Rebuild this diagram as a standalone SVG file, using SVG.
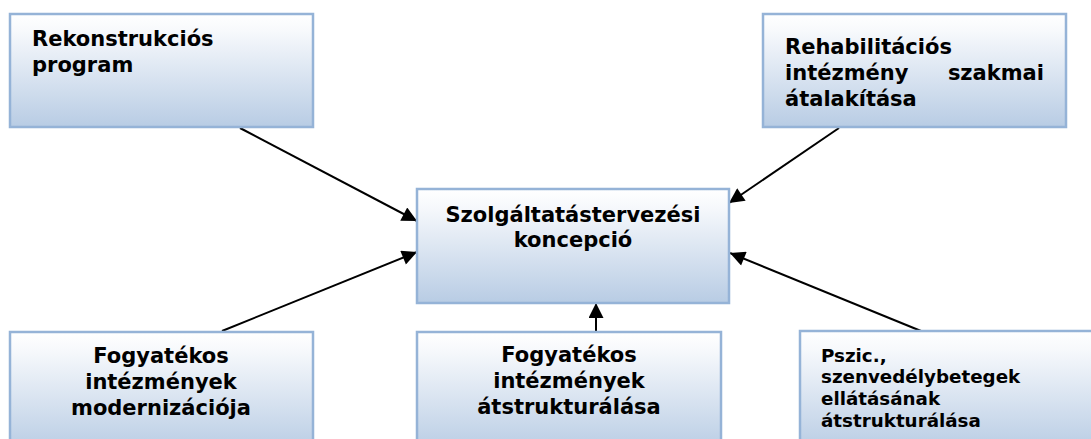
<svg xmlns="http://www.w3.org/2000/svg" width="1091" height="439" viewBox="0 0 1091 439">
<style>
.box{fill:url(#g);stroke:#95b3d7;stroke-width:2.5}
.t{font-family:"DejaVu Sans","Verdana",sans-serif;font-weight:bold;font-size:21px;fill:#000}
.s{font-size:18.3px}
.m{text-anchor:middle}
.e{text-anchor:end}
.c{stroke:#000;stroke-width:2;fill:none;marker-end:url(#a)}
</style>
<defs>
<linearGradient id="g" x1="0" y1="0" x2="0" y2="1">
<stop offset="0" stop-color="#ffffff"/>
<stop offset="0.15" stop-color="#f7f9fc"/>
<stop offset="1" stop-color="#b8cce4"/>
</linearGradient>
<marker id="a" viewBox="0 0 10 10" refX="10" refY="5" markerWidth="8.5" markerHeight="7.5" markerUnits="strokeWidth" orient="auto">
<path d="M0,0L10,5L0,10z" fill="#000"/>
</marker>
</defs>
<g id="connectors">
<line class="c" x1="240" y1="128" x2="417" y2="221"/>
<line class="c" x1="839" y1="128" x2="729" y2="203"/>
<line class="c" x1="222" y1="331" x2="417" y2="252"/>
<line class="c" x1="921" y1="331" x2="730" y2="253"/>
<line class="c" x1="596" y1="332" x2="596" y2="303"/>
</g>
<g id="n1">
<rect class="box" x="10" y="14" width="303" height="113"/>
<text class="t" x="32" y="46">Rekonstrukciós</text>
<text class="t" x="32" y="72">program</text>
</g>
<g id="n2">
<rect class="box" x="763" y="14" width="303" height="113"/>
<text class="t" x="785" y="54">Rehabilitációs</text>
<text class="t" x="785" y="80">intézmény</text>
<text class="t e" x="1044" y="80">szakmai</text>
<text class="t" x="785" y="106">átalakítása</text>
</g>
<g id="n3">
<rect class="box" x="417" y="189" width="312" height="114"/>
<text class="t m" x="573" y="222">Szolgáltatástervezési</text>
<text class="t m" x="573" y="247">koncepció</text>
</g>
<g id="n4">
<rect class="box" x="10" y="332" width="303" height="120"/>
<text class="t m" x="161" y="363">Fogyatékos</text>
<text class="t m" x="161" y="389">intézmények</text>
<text class="t m" x="161" y="415">modernizációja</text>
</g>
<g id="n5">
<rect class="box" x="417" y="332" width="304" height="120"/>
<text class="t m" x="569" y="362">Fogyatékos</text>
<text class="t m" x="569" y="388">intézmények</text>
<text class="t m" x="569" y="414">átstrukturálása</text>
</g>
<g id="n6">
<rect class="box" x="800" y="331" width="310" height="120"/>
<text class="t s" x="821" y="362">Pszic.,</text>
<text class="t s" x="821" y="383">szenvedélybetegek</text>
<text class="t s" x="821" y="405">ellátásának</text>
<text class="t s" x="821" y="427">átstrukturálása</text>
</g>
</svg>
